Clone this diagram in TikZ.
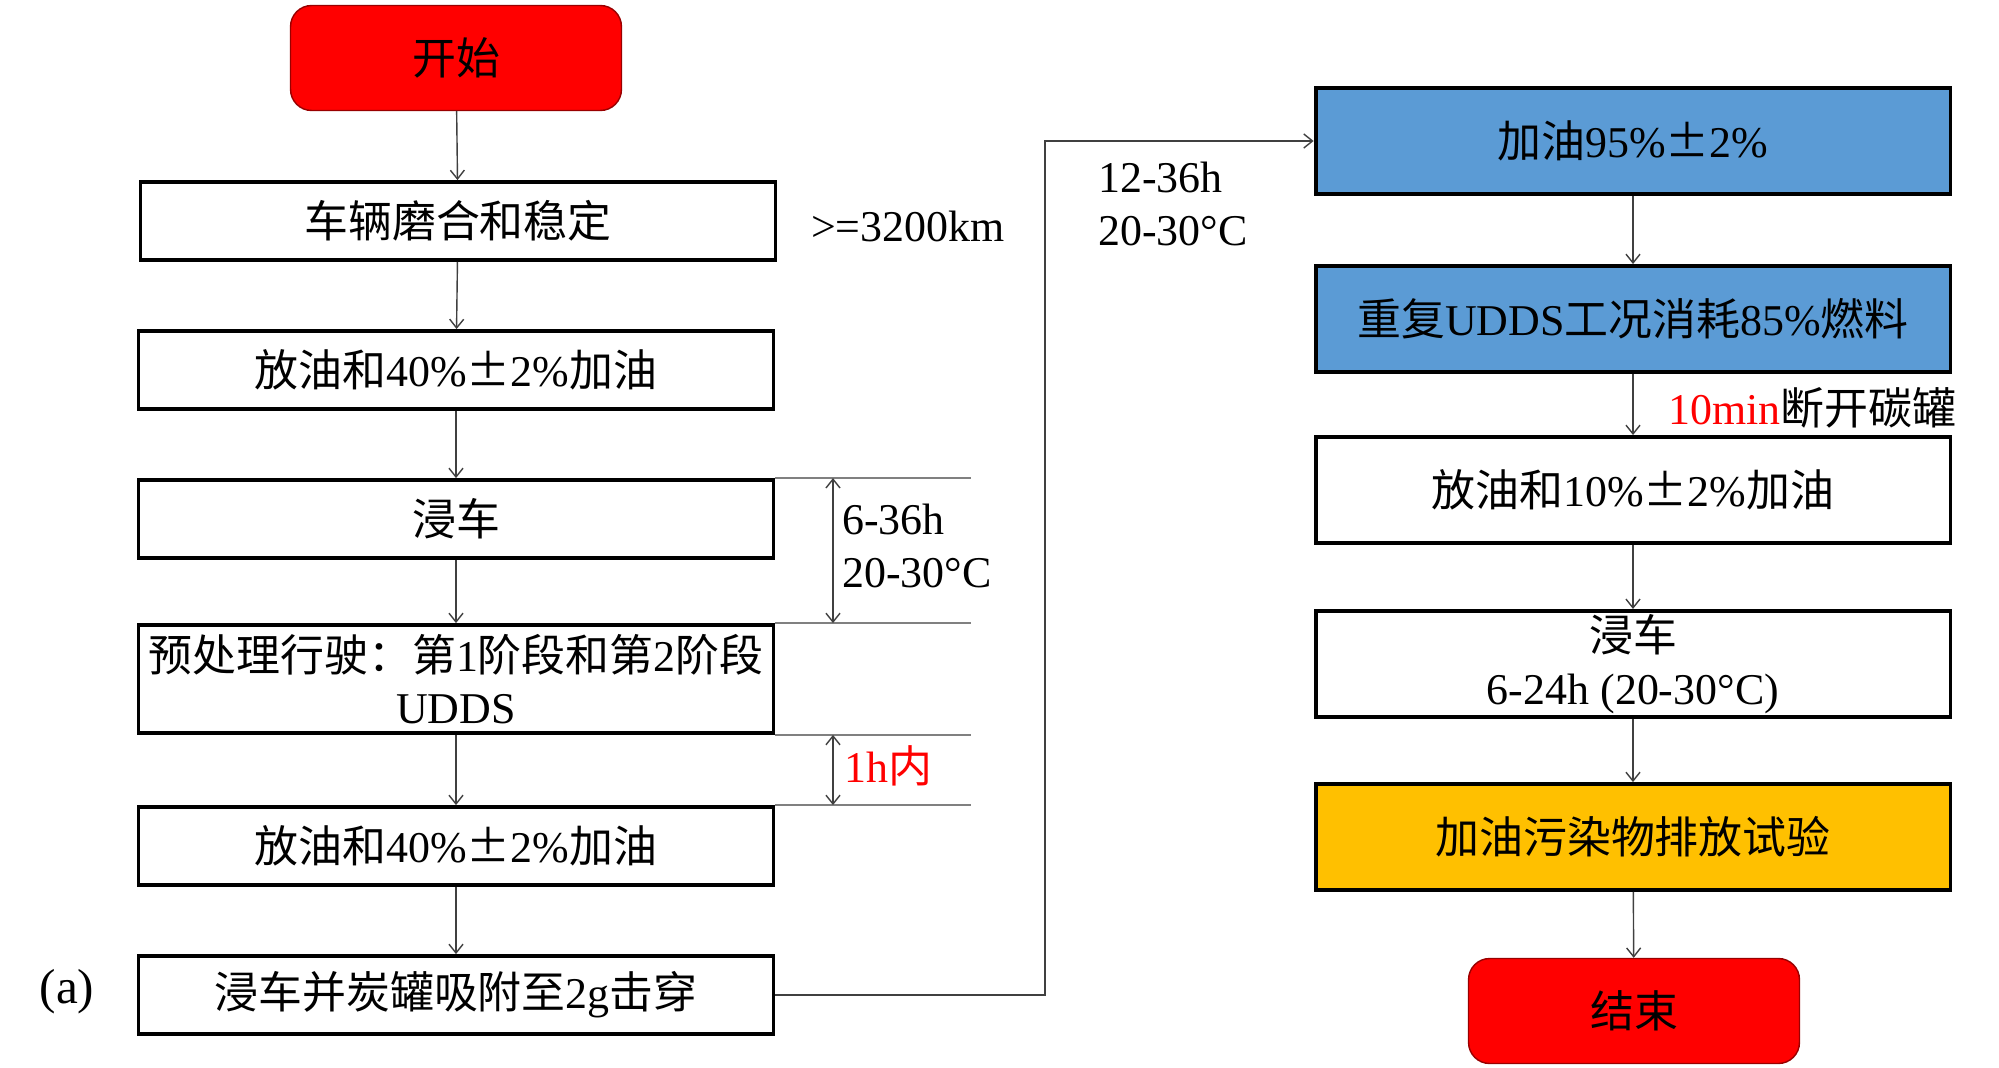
\documentclass[tikz,border=0pt]{standalone}
\usepackage{fontspec}
\setmainfont{Liberation Serif}
\newfontfamily\cjk{Noto Sans CJK SC}
\usepackage{xcolor}
\usepackage{tikz}
\usetikzlibrary{arrows.meta,positioning,calc}
\definecolor{termred}{HTML}{FF0000}
\definecolor{stepblue}{HTML}{5B9BD5}
\definecolor{testyellow}{HTML}{FFC000}
\definecolor{linegray}{HTML}{404040}
\tikzstyle{arr}     =[-{Straight Barb[length=5pt,width=8pt]}, line width=0.8pt, draw=linegray]
\tikzstyle{dimarr}  =[{Straight Barb[length=5pt,width=8pt]}-{Straight Barb[length=5pt,width=8pt]}, line width=0.8pt, draw=linegray]
\tikzstyle{dimline} =[line width=0.8pt, draw=gray]
\tikzstyle{procbox} =[draw=black, line width=2.2pt, fill=white, minimum width=12.7cm, minimum height=1.56cm, align=center, inner sep=2pt]
\tikzstyle{termbox} =[draw=red!60!black, line width=0.8pt, fill=termred, rounded corners=12pt, minimum width=6.62cm, minimum height=2.1cm]

\begin{document}
\begin{tikzpicture}[x=0.02cm, y=-0.02cm, every node/.style={font=\fontsize{25}{30}\selectfont}]
  \useasboundingbox (0,0) rectangle (1999,1068);

  % ── left column ────────────────────────────────────────────────────────────
  \node[termbox] (start) at (456,58) {\cjk 开始};
  \node[procbox] (runin) at (458,221) {\cjk 车辆磨合和稳定};
  \node[procbox] (drainA) at (456,370) {{\cjk 放油和}40\%{\cjk ±}2\%{\cjk 加油}};
  \node[procbox] (soakA) at (456,519) {\cjk 浸车};
  \node[procbox, minimum height=2.16cm] (precon) at (456,679)
    {{\cjk 预处理行驶：第}1{\cjk 阶段和第}2{\cjk 阶段}\\UDDS};
  \node[procbox] (drainB) at (456,846) {{\cjk 放油和}40\%{\cjk ±}2\%{\cjk 加油}};
  \node[procbox] (load) at (456,995) {{\cjk 浸车并炭罐吸附至}2g{\cjk 击穿}};
  \node[font=\fontsize{28}{32}\selectfont] (tag) at (67,992) {(a)};

  % ── right column ───────────────────────────────────────────────────────────
  \node[procbox, fill=stepblue, minimum height=2.12cm] (fillA) at (1633,141) {{\cjk 加油}95\%{\cjk ±}2\%};
  \node[procbox, fill=stepblue, minimum height=2.12cm] (udds) at (1633,319) {{\cjk 重复}UDDS{\cjk 工况消耗}85\%{\cjk 燃料}};
  \node[procbox, minimum height=2.12cm] (drainC) at (1633,490) {{\cjk 放油和}10\%{\cjk ±}2\%{\cjk 加油}};
  \node[procbox, minimum height=2.12cm] (soakB) at (1633,664) {{\cjk 浸车}\\6-24h (20-30°C)};
  \node[procbox, fill=testyellow, minimum height=2.12cm] (test) at (1633,837) {\cjk 加油污染物排放试验};
  \node[termbox] (stop) at (1634,1011) {\cjk 结束};

  % ── labels ─────────────────────────────────────────────────────────────────
  \node[anchor=west] (mileage) at (805,226) {>=3200km};
  \node[anchor=west, align=left] (soakAlbl) at (836,546) {6-36h\\20-30°C};
  \node[anchor=west, text=termred] (hourlbl) at (838,766) {1h{\cjk 内}};
  \node[anchor=west, align=left] (loadlbl) at (1092,204) {12-36h\\20-30°C};
  \node[anchor=west] (canlbl) at (1662,408) {\textcolor{termred}{10min}{\cjk 断开碳罐}};

  % ── connectors ─────────────────────────────────────────────────────────────
  \draw[arr] (start) -- (runin);
  \draw[arr] (runin) -- (drainA);
  \draw[arr] (drainA) -- (soakA);
  \draw[arr] (soakA) -- (precon);
  \draw[arr] (precon) -- (drainB);
  \draw[arr] (drainB) -- (load);
  \coordinate (turn) at (1045,0);
  \draw[arr] (load.east) -| (turn |- fillA.west) -- (fillA.west);
  \draw[arr] (fillA) -- (udds);
  \draw[arr] (udds) -- (drainC);
  \draw[arr] (drainC) -- (soakB);
  \draw[arr] (soakB) -- (test);
  \draw[arr] (test) -- (stop);

  % ── time marks ─────────────────────────────────────────────────────────────
  \coordinate (dimend) at (971,0);
  \coordinate (dimx) at (833,0);
  \draw[dimline] (soakA.north east) -- (soakA.north east -| dimend);
  \draw[dimline] (precon.north east) -- (precon.north east -| dimend);
  \draw[dimline] (precon.south east) -- (precon.south east -| dimend);
  \draw[dimline] (drainB.north east) -- (drainB.north east -| dimend);
  \draw[dimarr] (soakA.north east -| dimx) -- (precon.north east -| dimx);
  \draw[dimarr] (precon.south east -| dimx) -- (drainB.north east -| dimx);

\end{tikzpicture}
\end{document}
